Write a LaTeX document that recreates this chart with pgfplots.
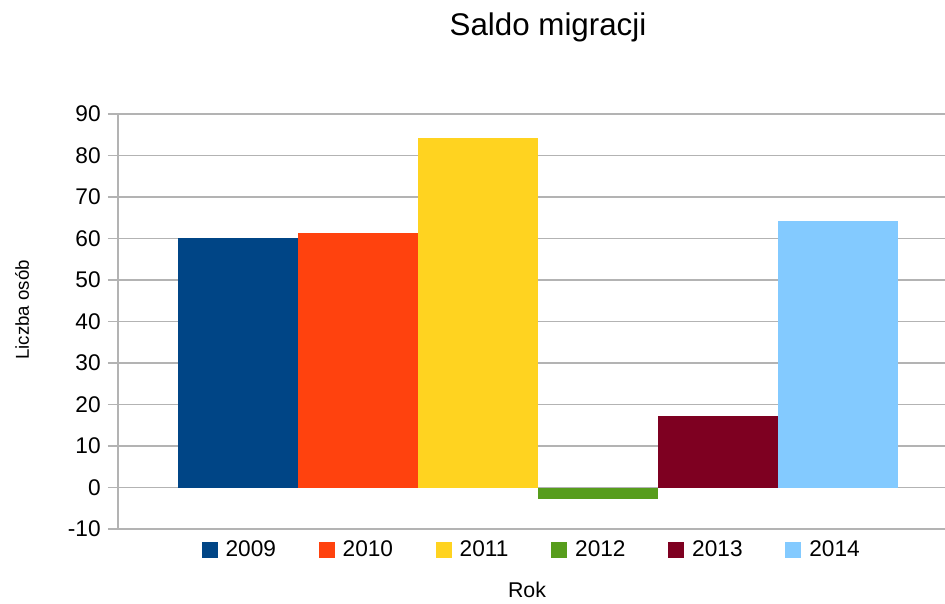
\documentclass[border=0pt]{standalone}
\usepackage{fontspec}
\setmainfont{Liberation Sans}
\usepackage{pgfplots}
\pgfplotsset{compat=1.18}
\definecolor{gridgray}{HTML}{B3B3B3}
\definecolor{c2009}{HTML}{004586}
\definecolor{c2010}{HTML}{FF420E}
\definecolor{c2011}{HTML}{FFD320}
\definecolor{c2012}{HTML}{579D1C}
\definecolor{c2013}{HTML}{7E0021}
\definecolor{c2014}{HTML}{83CAFF}

\begin{document}
\begin{tikzpicture}
\begin{axis}[
 scale only axis, width=620.25pt, height=311.25pt,
 xmin=-1, xmax=5.89, ymin=-10, ymax=90, ytick={-10,0,...,90},
 axis x line=none, axis y line*=left,
 y axis line style={draw=gridgray, line width=0.9pt, -},
 ymajorgrids, grid style={gridgray, line width=0.9pt},
 tick align=outside, major tick length=7.5pt,
 ytick style={gridgray, line width=0.9pt},
 /pgf/number format/assume math mode=true,
 yticklabel style={font=\fontsize{17}{20}\selectfont, text=black, xshift=-2pt},
 ybar, bar width=1,
 legend columns=6,
 legend style={draw=none, at={(0.5006,-0.0506)}, anchor=center,
  font=\fontsize{17}{20}\selectfont,
  /tikz/every odd column/.append style={column sep=4pt},
  /tikz/every even column/.append style={column sep=30pt}},
 legend image code/.code={\fill[#1] (0pt,-6pt) rectangle (12pt,6pt);},
]
\addplot[fill=c2009, draw=none, bar shift=0pt] coordinates {(0,60.2)};
\addplot[fill=c2010, draw=none, bar shift=0pt] coordinates {(1,61.4)};
\addplot[fill=c2011, draw=none, bar shift=0pt] coordinates {(2,84.3)};
\addplot[fill=c2012, draw=none, bar shift=0pt] coordinates {(3,-2.8)};
\addplot[fill=c2013, draw=none, bar shift=0pt] coordinates {(4,17.3)};
\addplot[fill=c2014, draw=none, bar shift=0pt] coordinates {(5,64.3)};
\legend{2009,2010,2011,2012,2013,2014}
\end{axis}
\node at (322.5pt,376.5pt) {\fontsize{23.5}{28}\selectfont Saldo migracji};
\node[rotate=90] at (-72pt,164.25pt) {\fontsize{14}{17}\selectfont Liczba osób};
\node at (306.75pt,-46pt) {\fontsize{16}{19}\selectfont Rok};
\pgfresetboundingbox
\path (-88.5pt,-55.5pt) rectangle (620.25pt,396.75pt);
\end{tikzpicture}
\end{document}
